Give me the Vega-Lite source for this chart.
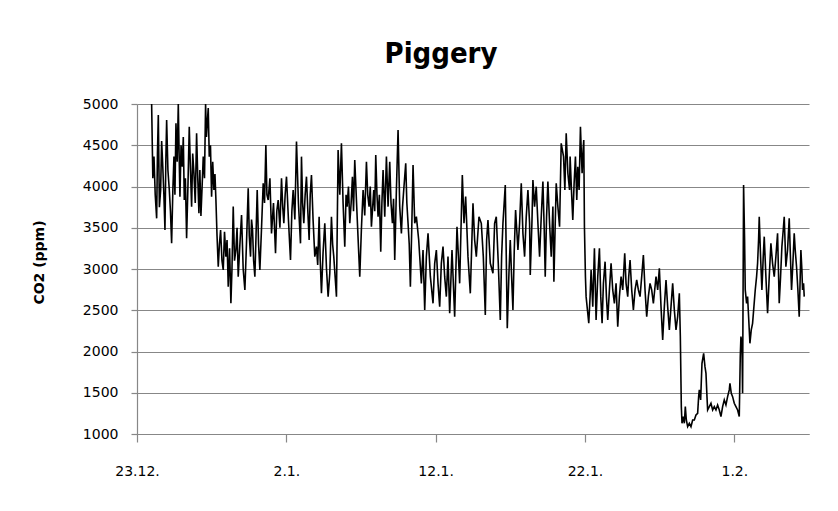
{
  "$schema": "https://vega.github.io/schema/vega-lite/v6.json",
  "width": 672,
  "height": 330,
  "autosize": {"type": "none"},
  "padding": {"left": 137, "top": 104, "right": 29, "bottom": 77},
  "background": "white",
  "title": {
    "text": "Piggery",
    "font": "Liberation Sans Narrow, DejaVu Sans Condensed, Roboto",
    "fontSize": 29,
    "fontWeight": "bold",
    "color": "black",
    "anchor": "middle",
    "frame": "group",
    "dx": -32,
    "baseline": "alphabetic",
    "offset": 5
  },
  "config": {
    "view": {"stroke": null},
    "axis": {
      "labelFont": "DejaVu Sans",
      "labelFontSize": 14,
      "labelColor": "black",
      "domainColor": "#878787",
      "tickColor": "#878787",
      "gridColor": "#878787",
      "domainWidth": 1.2,
      "tickWidth": 1.2,
      "gridWidth": 1.2
    }
  },
  "data": {
    "values": [
      {"day": 0.98, "ppm": 5000}, {"day": 1.06, "ppm": 4100}, {"day": 1.137, "ppm": 4362}, {"day": 1.22, "ppm": 3900},
      {"day": 1.316, "ppm": 3614}, {"day": 1.37, "ppm": 4400}, {"day": 1.427, "ppm": 4867}, {"day": 1.5, "ppm": 3750},
      {"day": 1.583, "ppm": 3958}, {"day": 1.65, "ppm": 4550}, {"day": 1.717, "ppm": 4281}, {"day": 1.8, "ppm": 3900},
      {"day": 1.873, "ppm": 3473}, {"day": 1.93, "ppm": 4300}, {"day": 1.985, "ppm": 4806}, {"day": 2.07, "ppm": 4200},
      {"day": 2.163, "ppm": 3958}, {"day": 2.24, "ppm": 3700}, {"day": 2.319, "ppm": 3311}, {"day": 2.4, "ppm": 3950},
      {"day": 2.475, "ppm": 4362}, {"day": 2.54, "ppm": 3900}, {"day": 2.609, "ppm": 4766}, {"day": 2.69, "ppm": 4300},
      {"day": 2.765, "ppm": 5000}, {"day": 2.82, "ppm": 4400}, {"day": 2.876, "ppm": 3877}, {"day": 2.95, "ppm": 4500},
      {"day": 3.032, "ppm": 4240}, {"day": 3.1, "ppm": 4600}, {"day": 3.166, "ppm": 3836}, {"day": 3.24, "ppm": 4100},
      {"day": 3.322, "ppm": 3372}, {"day": 3.41, "ppm": 4000}, {"day": 3.5, "ppm": 4725}, {"day": 3.58, "ppm": 4200},
      {"day": 3.657, "ppm": 3756}, {"day": 3.73, "ppm": 4400}, {"day": 3.813, "ppm": 4160}, {"day": 3.9, "ppm": 3800},
      {"day": 3.991, "ppm": 4645}, {"day": 4.07, "ppm": 4100}, {"day": 4.147, "ppm": 3675}, {"day": 4.21, "ppm": 4200},
      {"day": 4.281, "ppm": 3643}, {"day": 4.36, "ppm": 4000}, {"day": 4.437, "ppm": 4362}, {"day": 4.52, "ppm": 4100},
      {"day": 4.593, "ppm": 5000}, {"day": 4.65, "ppm": 4600}, {"day": 4.705, "ppm": 4766}, {"day": 4.77, "ppm": 4950},
      {"day": 4.839, "ppm": 4362}, {"day": 4.92, "ppm": 4500}, {"day": 4.995, "ppm": 3877}, {"day": 5.07, "ppm": 4300},
      {"day": 5.151, "ppm": 3958}, {"day": 5.22, "ppm": 4150}, {"day": 5.285, "ppm": 3836}, {"day": 5.36, "ppm": 3400},
      {"day": 5.441, "ppm": 3028}, {"day": 5.52, "ppm": 3300}, {"day": 5.597, "ppm": 3473}, {"day": 5.69, "ppm": 3100},
      {"day": 5.775, "ppm": 2988}, {"day": 5.86, "ppm": 3450}, {"day": 5.953, "ppm": 3150}, {"day": 6.03, "ppm": 3350},
      {"day": 6.109, "ppm": 2786}, {"day": 6.2, "ppm": 3250}, {"day": 6.288, "ppm": 2584}, {"day": 6.36, "ppm": 3000},
      {"day": 6.444, "ppm": 3756}, {"day": 6.53, "ppm": 3100}, {"day": 6.622, "ppm": 3230}, {"day": 6.7, "ppm": 3500},
      {"day": 6.778, "ppm": 2907}, {"day": 6.89, "ppm": 3300}, {"day": 7.001, "ppm": 3655}, {"day": 7.11, "ppm": 3000},
      {"day": 7.224, "ppm": 2746}, {"day": 7.33, "ppm": 3300}, {"day": 7.447, "ppm": 3978}, {"day": 7.52, "ppm": 3400},
      {"day": 7.603, "ppm": 3150}, {"day": 7.67, "ppm": 3600}, {"day": 7.737, "ppm": 3473}, {"day": 7.81, "ppm": 3100},
      {"day": 7.893, "ppm": 2907}, {"day": 7.97, "ppm": 3400}, {"day": 8.049, "ppm": 3958}, {"day": 8.14, "ppm": 3300},
      {"day": 8.228, "ppm": 2988}, {"day": 8.34, "ppm": 3500}, {"day": 8.451, "ppm": 4038}, {"day": 8.54, "ppm": 3800},
      {"day": 8.629, "ppm": 4503}, {"day": 8.7, "ppm": 3900}, {"day": 8.785, "ppm": 3836}, {"day": 8.9, "ppm": 4100},
      {"day": 9.008, "ppm": 3432}, {"day": 9.14, "ppm": 3800}, {"day": 9.276, "ppm": 3190}, {"day": 9.36, "ppm": 3700},
      {"day": 9.454, "ppm": 3836}, {"day": 9.57, "ppm": 3500}, {"day": 9.677, "ppm": 4099}, {"day": 9.76, "ppm": 3750},
      {"day": 9.833, "ppm": 3554}, {"day": 9.92, "ppm": 3900}, {"day": 10.011, "ppm": 4119}, {"day": 10.14, "ppm": 3600},
      {"day": 10.279, "ppm": 3109}, {"day": 10.37, "ppm": 3700}, {"day": 10.457, "ppm": 3958}, {"day": 10.57, "ppm": 3600},
      {"day": 10.68, "ppm": 4544}, {"day": 10.81, "ppm": 3800}, {"day": 10.948, "ppm": 3311}, {"day": 11.014, "ppm": 4362},
      {"day": 11.09, "ppm": 3800}, {"day": 11.17, "ppm": 3554}, {"day": 11.26, "ppm": 3900}, {"day": 11.349, "ppm": 4119},
      {"day": 11.44, "ppm": 3700}, {"day": 11.527, "ppm": 3352}, {"day": 11.6, "ppm": 3900}, {"day": 11.683, "ppm": 4139},
      {"day": 11.79, "ppm": 3600}, {"day": 11.906, "ppm": 3150}, {"day": 12.018, "ppm": 3271}, {"day": 12.1, "ppm": 3050},
      {"day": 12.196, "ppm": 3634}, {"day": 12.27, "ppm": 3100}, {"day": 12.352, "ppm": 2705}, {"day": 12.46, "ppm": 3200},
      {"day": 12.575, "ppm": 3554}, {"day": 12.69, "ppm": 3000}, {"day": 12.798, "ppm": 2665}, {"day": 12.91, "ppm": 2948},
      {"day": 13.021, "ppm": 3634}, {"day": 13.1, "ppm": 3300}, {"day": 13.177, "ppm": 3150}, {"day": 13.27, "ppm": 2900},
      {"day": 13.356, "ppm": 2665}, {"day": 13.467, "ppm": 4442}, {"day": 13.58, "ppm": 3900}, {"day": 13.69, "ppm": 4523},
      {"day": 13.8, "ppm": 3800}, {"day": 13.913, "ppm": 3271}, {"day": 14.0, "ppm": 3900}, {"day": 14.069, "ppm": 3756},
      {"day": 14.16, "ppm": 4000}, {"day": 14.248, "ppm": 3554}, {"day": 14.34, "ppm": 3800}, {"day": 14.426, "ppm": 4119},
      {"day": 14.5, "ppm": 3700}, {"day": 14.582, "ppm": 4321}, {"day": 14.75, "ppm": 3600}, {"day": 14.917, "ppm": 2907},
      {"day": 15.03, "ppm": 3500}, {"day": 15.141, "ppm": 3958}, {"day": 15.25, "ppm": 3650}, {"day": 15.364, "ppm": 4301},
      {"day": 15.45, "ppm": 3900}, {"day": 15.542, "ppm": 3756}, {"day": 15.62, "ppm": 4000}, {"day": 15.698, "ppm": 3513},
      {"day": 15.78, "ppm": 3750}, {"day": 15.854, "ppm": 3958}, {"day": 15.92, "ppm": 3700}, {"day": 15.988, "ppm": 4382},
      {"day": 16.07, "ppm": 3900}, {"day": 16.144, "ppm": 3634}, {"day": 16.23, "ppm": 3900}, {"day": 16.322, "ppm": 3210},
      {"day": 16.4, "ppm": 3800}, {"day": 16.479, "ppm": 4200}, {"day": 16.59, "ppm": 3634}, {"day": 16.702, "ppm": 4362},
      {"day": 16.813, "ppm": 3756}, {"day": 16.924, "ppm": 4301}, {"day": 17.01, "ppm": 3800}, {"day": 17.103, "ppm": 3554},
      {"day": 17.18, "ppm": 3850}, {"day": 17.259, "ppm": 3109}, {"day": 17.37, "ppm": 3958}, {"day": 17.482, "ppm": 4685},
      {"day": 17.593, "ppm": 3756}, {"day": 17.705, "ppm": 3432}, {"day": 17.78, "ppm": 3750}, {"day": 17.861, "ppm": 3958},
      {"day": 17.995, "ppm": 4281}, {"day": 18.07, "ppm": 3800}, {"day": 18.151, "ppm": 3554}, {"day": 18.23, "ppm": 3300},
      {"day": 18.307, "ppm": 2786}, {"day": 18.4, "ppm": 3500}, {"day": 18.485, "ppm": 4261}, {"day": 18.597, "ppm": 3554},
      {"day": 18.708, "ppm": 3634}, {"day": 18.864, "ppm": 3352}, {"day": 18.95, "ppm": 3100}, {"day": 19.042, "ppm": 2826},
      {"day": 19.154, "ppm": 3230}, {"day": 19.266, "ppm": 2503}, {"day": 19.377, "ppm": 3150}, {"day": 19.489, "ppm": 3432},
      {"day": 19.645, "ppm": 2907}, {"day": 19.823, "ppm": 2584}, {"day": 19.935, "ppm": 3069}, {"day": 20.046, "ppm": 3230},
      {"day": 20.157, "ppm": 2826}, {"day": 20.269, "ppm": 2544}, {"day": 20.38, "ppm": 3069}, {"day": 20.492, "ppm": 3271},
      {"day": 20.603, "ppm": 2907}, {"day": 20.715, "ppm": 2665}, {"day": 20.826, "ppm": 3150}, {"day": 20.938, "ppm": 2463},
      {"day": 21.094, "ppm": 3230}, {"day": 21.272, "ppm": 2422}, {"day": 21.428, "ppm": 3513}, {"day": 21.607, "ppm": 2826},
      {"day": 21.785, "ppm": 4139}, {"day": 21.897, "ppm": 3554}, {"day": 22.008, "ppm": 3877}, {"day": 22.164, "ppm": 3150},
      {"day": 22.32, "ppm": 2705}, {"day": 22.499, "ppm": 3796}, {"day": 22.61, "ppm": 3352}, {"day": 22.722, "ppm": 3150},
      {"day": 22.9, "ppm": 3634}, {"day": 23.056, "ppm": 3554}, {"day": 23.19, "ppm": 3150}, {"day": 23.324, "ppm": 2443},
      {"day": 23.413, "ppm": 3352}, {"day": 23.502, "ppm": 3594}, {"day": 23.658, "ppm": 3069}, {"day": 23.836, "ppm": 2948},
      {"day": 23.948, "ppm": 3554}, {"day": 24.059, "ppm": 3634}, {"day": 24.193, "ppm": 3069}, {"day": 24.327, "ppm": 2382},
      {"day": 24.416, "ppm": 3150}, {"day": 24.505, "ppm": 3554}, {"day": 24.661, "ppm": 4018}, {"day": 24.795, "ppm": 2281},
      {"day": 24.907, "ppm": 2948}, {"day": 24.996, "ppm": 3352}, {"day": 25.085, "ppm": 2907}, {"day": 25.174, "ppm": 2503},
      {"day": 25.263, "ppm": 3230}, {"day": 25.352, "ppm": 3715}, {"day": 25.509, "ppm": 3230}, {"day": 25.62, "ppm": 3554},
      {"day": 25.732, "ppm": 4038}, {"day": 25.843, "ppm": 3432}, {"day": 25.955, "ppm": 3150}, {"day": 26.066, "ppm": 3634},
      {"day": 26.178, "ppm": 3958}, {"day": 26.289, "ppm": 3554}, {"day": 26.334, "ppm": 2927}, {"day": 26.445, "ppm": 3554},
      {"day": 26.512, "ppm": 4079}, {"day": 26.624, "ppm": 3756}, {"day": 26.735, "ppm": 3998}, {"day": 26.847, "ppm": 3554},
      {"day": 26.958, "ppm": 3150}, {"day": 27.07, "ppm": 3634}, {"day": 27.181, "ppm": 4059}, {"day": 27.27, "ppm": 3473},
      {"day": 27.337, "ppm": 2907}, {"day": 27.426, "ppm": 3634}, {"day": 27.515, "ppm": 4059}, {"day": 27.627, "ppm": 3554},
      {"day": 27.738, "ppm": 3150}, {"day": 27.85, "ppm": 3756}, {"day": 27.917, "ppm": 2847}, {"day": 28.006, "ppm": 3554},
      {"day": 28.073, "ppm": 4038}, {"day": 28.184, "ppm": 3756}, {"day": 28.296, "ppm": 3513}, {"day": 28.407, "ppm": 4523},
      {"day": 28.563, "ppm": 4362}, {"day": 28.652, "ppm": 3958}, {"day": 28.741, "ppm": 4645}, {"day": 28.853, "ppm": 4160},
      {"day": 28.965, "ppm": 3958},
      {"day": 29.003, "ppm": 4362}, {"day": 29.093, "ppm": 3958}, {"day": 29.182, "ppm": 3594}, {"day": 29.271, "ppm": 4038},
      {"day": 29.36, "ppm": 4362}, {"day": 29.449, "ppm": 3836}, {"day": 29.516, "ppm": 4240}, {"day": 29.605, "ppm": 3958},
      {"day": 29.695, "ppm": 4725}, {"day": 29.762, "ppm": 4362}, {"day": 29.806, "ppm": 4160}, {"day": 29.873, "ppm": 4442},
      {"day": 29.918, "ppm": 4564}, {"day": 29.962, "ppm": 3513}, {"day": 30.029, "ppm": 2907}, {"day": 30.074, "ppm": 2665},
      {"day": 30.163, "ppm": 2503}, {"day": 30.252, "ppm": 2342}, {"day": 30.341, "ppm": 2665}, {"day": 30.408, "ppm": 2988},
      {"day": 30.52, "ppm": 2544}, {"day": 30.631, "ppm": 3251}, {"day": 30.743, "ppm": 2382}, {"day": 30.854, "ppm": 2907},
      {"day": 30.966, "ppm": 3251}, {"day": 31.055, "ppm": 2665}, {"day": 31.144, "ppm": 2342}, {"day": 31.233, "ppm": 2826},
      {"day": 31.345, "ppm": 3089}, {"day": 31.434, "ppm": 2665}, {"day": 31.523, "ppm": 2382}, {"day": 31.634, "ppm": 2746},
      {"day": 31.746, "ppm": 3069}, {"day": 31.857, "ppm": 2746}, {"day": 31.969, "ppm": 2584}, {"day": 32.08, "ppm": 2826},
      {"day": 32.192, "ppm": 2301}, {"day": 32.303, "ppm": 2665}, {"day": 32.415, "ppm": 2907}, {"day": 32.526, "ppm": 2746},
      {"day": 32.66, "ppm": 3190}, {"day": 32.749, "ppm": 2826}, {"day": 32.861, "ppm": 2665}, {"day": 32.928, "ppm": 2907},
      {"day": 33.017, "ppm": 3109}, {"day": 33.128, "ppm": 2746}, {"day": 33.24, "ppm": 2503}, {"day": 33.351, "ppm": 2746},
      {"day": 33.463, "ppm": 2867}, {"day": 33.574, "ppm": 2746}, {"day": 33.686, "ppm": 2665}, {"day": 33.797, "ppm": 2907},
      {"day": 33.909, "ppm": 3170}, {"day": 34.02, "ppm": 2746}, {"day": 34.132, "ppm": 2422}, {"day": 34.243, "ppm": 2665},
      {"day": 34.355, "ppm": 2826}, {"day": 34.466, "ppm": 2746}, {"day": 34.578, "ppm": 2584}, {"day": 34.667, "ppm": 2746},
      {"day": 34.756, "ppm": 2907}, {"day": 34.867, "ppm": 2746}, {"day": 34.979, "ppm": 3008}, {"day": 35.09, "ppm": 2544},
      {"day": 35.202, "ppm": 2140}, {"day": 35.313, "ppm": 2544}, {"day": 35.425, "ppm": 2867}, {"day": 35.536, "ppm": 2544},
      {"day": 35.648, "ppm": 2261}, {"day": 35.759, "ppm": 2544}, {"day": 35.871, "ppm": 2826}, {"day": 35.982, "ppm": 2503},
      {"day": 36.094, "ppm": 2261}, {"day": 36.205, "ppm": 2422}, {"day": 36.317, "ppm": 2705}, {"day": 36.384, "ppm": 2180},
      {"day": 36.45, "ppm": 1332}, {"day": 36.495, "ppm": 1130}, {"day": 36.584, "ppm": 1211}, {"day": 36.651, "ppm": 1130},
      {"day": 36.718, "ppm": 1332}, {"day": 36.785, "ppm": 1170}, {"day": 36.874, "ppm": 1089}, {"day": 36.986, "ppm": 1130},
      {"day": 37.097, "ppm": 1089}, {"day": 37.209, "ppm": 1170}, {"day": 37.32, "ppm": 1170}, {"day": 37.432, "ppm": 1231},
      {"day": 37.543, "ppm": 1251}, {"day": 37.61, "ppm": 1453}, {"day": 37.655, "ppm": 1534}, {"day": 37.744, "ppm": 1413},
      {"day": 37.833, "ppm": 1857}, {"day": 37.945, "ppm": 1978}, {"day": 38.034, "ppm": 1816}, {"day": 38.101, "ppm": 1735},
      {"day": 38.168, "ppm": 1453}, {"day": 38.212, "ppm": 1291}, {"day": 38.324, "ppm": 1332}, {"day": 38.435, "ppm": 1372},
      {"day": 38.547, "ppm": 1291}, {"day": 38.658, "ppm": 1332}, {"day": 38.77, "ppm": 1291}, {"day": 38.881, "ppm": 1352},
      {"day": 38.993, "ppm": 1291}, {"day": 39.104, "ppm": 1211}, {"day": 39.216, "ppm": 1332}, {"day": 39.327, "ppm": 1413},
      {"day": 39.438, "ppm": 1352}, {"day": 39.55, "ppm": 1453}, {"day": 39.661, "ppm": 1534}, {"day": 39.706, "ppm": 1614},
      {"day": 39.795, "ppm": 1493}, {"day": 39.884, "ppm": 1453}, {"day": 39.996, "ppm": 1372}, {"day": 40.107, "ppm": 1332},
      {"day": 40.219, "ppm": 1291}, {"day": 40.33, "ppm": 1211}, {"day": 40.397, "ppm": 1938}, {"day": 40.442, "ppm": 2180},
      {"day": 40.509, "ppm": 2099}, {"day": 40.553, "ppm": 1493}, {"day": 40.62, "ppm": 4018}, {"day": 40.687, "ppm": 3352},
      {"day": 40.731, "ppm": 2746}, {"day": 40.821, "ppm": 2584}, {"day": 40.888, "ppm": 2665}, {"day": 40.977, "ppm": 2342},
      {"day": 41.043, "ppm": 2099}, {"day": 41.133, "ppm": 2261}, {"day": 41.222, "ppm": 2342}, {"day": 41.311, "ppm": 2544},
      {"day": 41.4, "ppm": 2746}, {"day": 41.49, "ppm": 2907}, {"day": 41.557, "ppm": 3069}, {"day": 41.623, "ppm": 3352},
      {"day": 41.668, "ppm": 3634}, {"day": 41.757, "ppm": 3150}, {"day": 41.846, "ppm": 2746}, {"day": 41.936, "ppm": 3150},
      {"day": 42.003, "ppm": 3392}, {"day": 42.114, "ppm": 2907}, {"day": 42.226, "ppm": 2463}, {"day": 42.337, "ppm": 2907},
      {"day": 42.449, "ppm": 3311}, {"day": 42.56, "ppm": 3069}, {"day": 42.672, "ppm": 2907}, {"day": 42.783, "ppm": 3150},
      {"day": 42.895, "ppm": 3432}, {"day": 43.006, "ppm": 2584}, {"day": 43.096, "ppm": 2907}, {"day": 43.185, "ppm": 3271},
      {"day": 43.274, "ppm": 3473}, {"day": 43.341, "ppm": 3634}, {"day": 43.452, "ppm": 3028}, {"day": 43.564, "ppm": 3230},
      {"day": 43.675, "ppm": 3614}, {"day": 43.742, "ppm": 3230}, {"day": 43.831, "ppm": 2746}, {"day": 43.921, "ppm": 3069},
      {"day": 44.01, "ppm": 3432}, {"day": 44.077, "ppm": 3230}, {"day": 44.166, "ppm": 3028}, {"day": 44.256, "ppm": 2746},
      {"day": 44.344, "ppm": 2422}, {"day": 44.412, "ppm": 2907}, {"day": 44.457, "ppm": 3230}, {"day": 44.524, "ppm": 2988},
      {"day": 44.568, "ppm": 2746}, {"day": 44.635, "ppm": 2826}, {"day": 44.68, "ppm": 2665}
    ]
  },
  "mark": {"type": "line", "color": "black", "strokeWidth": 1.6, "clip": true},
  "encoding": {
    "x": {
      "field": "day",
      "type": "quantitative",
      "scale": {"domain": [0, 45], "nice": false, "zero": false},
      "axis": {
        "values": [0, 10, 20, 30, 40],
        "labelExpr": "timeFormat(datetime(2010, 11, 23 + datum.value), '%-d.%-m.')",
        "grid": false,
        "title": null,
        "tickSize": 8,
        "labelPadding": 22,
        "labelFlush": false
      }
    },
    "y": {
      "field": "ppm",
      "type": "quantitative",
      "scale": {"domain": [1000, 5000], "nice": false, "zero": false},
      "axis": {
        "values": [1000, 1500, 2000, 2500, 3000, 3500, 4000, 4500, 5000],
        "format": "d",
        "grid": true,
        "tickSize": 6,
        "labelPadding": 13,
        "title": "CO2 (ppm)",
        "titleFont": "DejaVu Sans",
        "titleFontSize": 14,
        "titleFontWeight": "bold",
        "titleColor": "black",
        "titleAngle": 270,
        "titleX": -98,
        "titleY": 158,
        "titleAlign": "center",
        "titleBaseline": "middle"
      }
    }
  }
}
